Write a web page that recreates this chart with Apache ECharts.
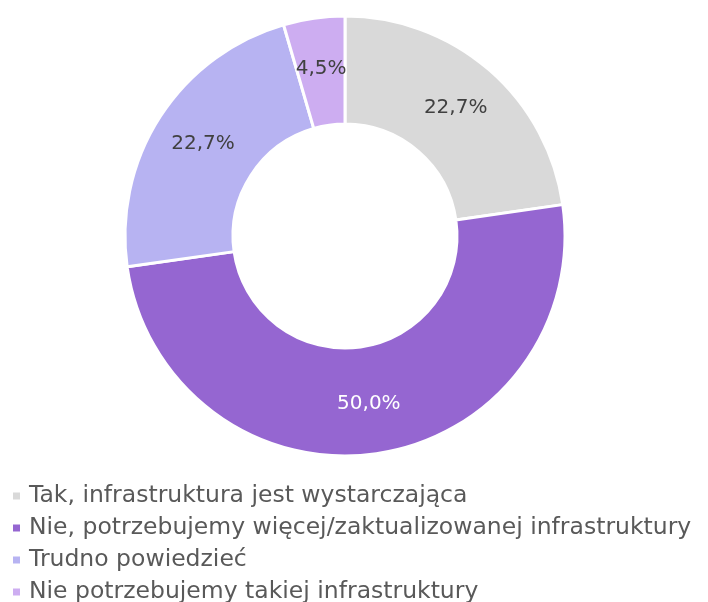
<!DOCTYPE html>
<html>
<head>
<meta charset="utf-8">
<script src="https://cdn.jsdelivr.net/npm/echarts@6/dist/echarts.min.js"></script>
<style>
  html, body { margin: 0; padding: 0; background: #fff; }
  #chart { width: 708px; height: 602px; }
</style>
</head>
<body>
<div id="chart"></div>
<script>
// Survey answers and their shares (percent)
const categories = [
  'Tak, infrastruktura jest wystarczająca',
  'Nie, potrzebujemy więcej/zaktualizowanej infrastruktury',
  'Trudno powiedzieć',
  'Nie potrzebujemy takiej infrastruktury'
];
const values = [22.7, 50.0, 22.7, 4.5];
const colors = ['#D9D9D9', '#9566D1', '#B7B3F2', '#CDADF1'];
const labelColors = ['#404040', '#FFFFFF', '#404040', '#404040'];

const FONT = '"DejaVu Sans", sans-serif';

const chart = echarts.init(document.getElementById('chart'), null, { renderer: 'canvas' });

chart.setOption({
  animation: false,
  color: colors,
  legend: {
    orient: 'vertical',
    left: 6,
    top: 479,
    height: 130,
    itemWidth: 9,
    itemHeight: 9,
    itemGap: 8,
    icon: 'rect',
    textStyle: { fontFamily: FONT, fontSize: 23.5, color: '#595959', lineHeight: 24, padding: [0, 0, 0, 3] },
    data: categories
  },
  series: [{
    type: 'pie',
    center: [345, 236],
    radius: [112, 220],
    startAngle: 90,
    clockwise: true,
    avoidLabelOverlap: false,
    itemStyle: { borderColor: '#FFFFFF', borderWidth: 3 },
    label: {
      show: true,
      position: 'inside',
      fontFamily: FONT,
      fontSize: 20,
      formatter: p => p.value.toFixed(1).replace('.', ',') + '%'
    },
    labelLine: { show: false },
    emphasis: { disabled: true },
    data: categories.map((name, i) => ({
      name,
      value: values[i],
      label: { color: labelColors[i] }
    }))
  }]
});
</script>
</body>
</html>
